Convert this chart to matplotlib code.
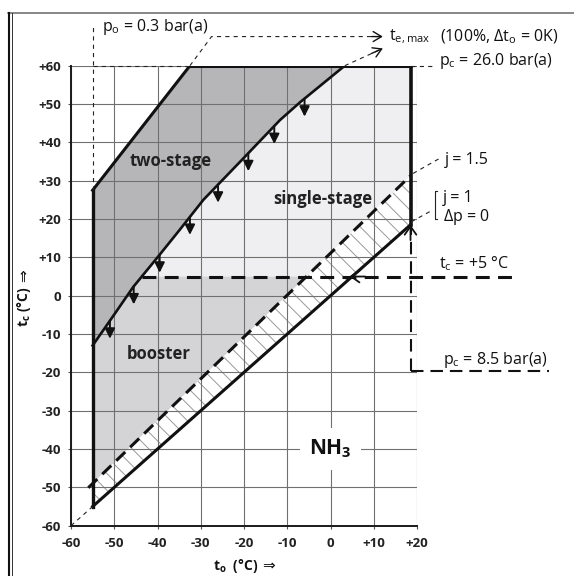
import numpy as np
import matplotlib
matplotlib.use('Agg')
import matplotlib.pyplot as plt
from matplotlib.lines import Line2D
from matplotlib.patches import Polygon

plt.rcParams['font.family'] = ['Open Sans', 'DejaVu Sans']
plt.rcParams['mathtext.fontset'] = 'custom'
plt.rcParams['mathtext.rm'] = 'Open Sans'
plt.rcParams['mathtext.it'] = 'Open Sans:italic'
plt.rcParams['mathtext.bf'] = 'Open Sans:bold'
plt.rcParams['axes.unicode_minus'] = False
plt.rcParams['lines.scale_dashes'] = False
plt.rcParams['hatch.linewidth'] = 0.7
plt.rcParams['hatch.color'] = '#9a9a9a'

# application limits: evaporating temp t_o (x) vs condensing temp t_c (y), degC
te_min = -55
te_max = 18.5
tc_max = 60
tc_split = 5        # booster / single-stage border (t_c = +5)
tc_low = -19.6      # p_c = 8.5 bar(a)

# p_o = 0.3 bar(a) edge of the two-stage area
po_x = [-55, -32.5]
po_y = [27.5, 60]

# single-stage limit
single_x = [-55, -50, -45.6, -40, -35, -29.4, -20, -11.7, -7, 3.3]
single_y = [-13, -4.9, 2.3, 10, 17, 25, 36, 45.8, 50.5, 60]

# pressure ratio lines
j15_x = [-56, 18.5]
j15_y = [-50.1, 31.3]
j1_x = [-55, 18.5]
j1_y = [-55, 18.5]

# down arrows along the single-stage limit
arrow_x = [-51, -45.5, -39.5, -32.5, -26, -19, -13, -6]

xticks = [-60, -50, -40, -30, -20, -10, 0, 10, 20]
xlabels = ['-60', '-50', '-40', '-30', '-20', '-10', '0', '+10', '+20']
yticks = [-60, -50, -40, -30, -20, -10, 0, 10, 20, 30, 40, 50, 60]
ylabels = ['-60', '-50', '-40', '-30', '-20', '-10', '0', '+10', '+20',
           '+30', '+40', '+50', '+60']

c_two = '#b6b6b8'
c_boost = '#d4d4d6'
c_single = '#efeff1'

fig = plt.figure(figsize=(5.74, 5.76), dpi=100)
ax = fig.add_axes([71 / 574, 1 - 525.7 / 576, 346 / 574, 460 / 576])
ax.set_xlim(-60, 20)
ax.set_ylim(-60, 60)

def j15(x):
    return np.interp(x, j15_x, j15_y)

xc5 = np.interp(tc_split, single_y, single_x)
xj5 = np.interp(tc_split, j15_y, j15_x)
curve = list(zip(single_x, single_y))

two_stage = [(po_x[0], po_y[0]), (po_x[1], po_y[1])] + curve[::-1]
single = ([(xc5, tc_split)] + [p for p in curve if p[1] > tc_split]
          + [(te_max, tc_max), (te_max, j15(te_max)), (xj5, tc_split)])
booster = ([p for p in curve if p[1] < tc_split] + [(xc5, tc_split), (xj5, tc_split),
           (te_min, j15(te_min))])
band = [(j1_x[0], j1_y[0]), (j1_x[1], j1_y[1]), (te_max, j15(te_max)), (te_min, j15(te_min))]

ax.add_patch(Polygon(two_stage, closed=True, facecolor=c_two, lw=0, zorder=1))
ax.add_patch(Polygon(single, closed=True, facecolor=c_single, lw=0, zorder=1))
ax.add_patch(Polygon(booster, closed=True, facecolor=c_boost, lw=0, zorder=1))
ax.add_patch(Polygon(band, closed=True, facecolor='white', edgecolor='#9a9a9a',
                     hatch='\\\\', lw=0, zorder=1))

# grid and axes
ax.set_xticks(xticks)
ax.set_xticklabels(xlabels)
ax.set_yticks(yticks)
ax.set_yticklabels(ylabels)
ax.grid(True, color='#707070', lw=0.8)
for s in ['top', 'right']:
    ax.spines[s].set_visible(False)
for s in ['left', 'bottom']:
    ax.spines[s].set_linewidth(1.4)
    ax.spines[s].set_color('#1a1a1a')
ax.tick_params(direction='out', length=2.5, width=0.8, color='#555555',
               labelsize=9.5, labelcolor='#222222')
ax.tick_params(axis='y', pad=4.5)
ax.tick_params(axis='x', pad=5.5)
for lab in ax.get_xticklabels() + ax.get_yticklabels():
    lab.set_fontweight('bold')

k = '#111111'
# area borders
ax.plot([te_min, te_min], [po_y[0], j1_y[0]], color=k, lw=2.4, zorder=4)
ax.plot(po_x, po_y, color=k, lw=2.2, zorder=4)
ax.plot([po_x[1], te_max], [tc_max, tc_max], color=k, lw=2.2, zorder=4)
ax.plot([te_max, te_max], [tc_max, j1_y[1]], color=k, lw=2.6, zorder=4)
ax.plot(j1_x, j1_y, color=k, lw=2.2, zorder=4)
ax.plot(single_x, single_y, color=k, lw=1.9, zorder=4)
ax.plot(j15_x, j15_y, color=k, lw=2.2, dashes=(9, 5), zorder=4)
ax.plot([xc5, 42.5], [tc_split, tc_split], color=k, lw=2.2, dashes=(10, 6),
        zorder=4, clip_on=False)
ax.plot([te_max, te_max], [tc_low, j1_y[1]], color=k, lw=1.5, dashes=(9, 5),
        zorder=4, clip_on=False)
ax.plot([te_max, 50.6], [tc_low, tc_low], color=k, lw=1.5, dashes=(9, 5),
        zorder=4, clip_on=False)

# thin guide lines
thin = dict(color='#222222', lw=0.8, dashes=(3, 3), zorder=4, clip_on=False)
ax.plot([te_min, te_min], [po_y[0], 70.6], **thin)
ax.plot([te_min, po_x[1]], [tc_max, tc_max], **thin)
ax.plot([po_x[1], -27.5, 12.1], [tc_max, 67.6, 67.6], **thin)
ax.plot([single_x[-1], 12.1], [single_y[-1], 64.5], **thin)
ax.plot([te_max, 24.5], [tc_max, tc_max], **thin)
ax.plot([19.1, 25.2], [31.9, 35.8], **thin)
ax.plot([18.7, 23.7], [19.3, 22.4], **thin)
ax.plot([-60, j1_x[0]], [-60, j1_y[0]], **thin)
ax.plot([24.7, 24.1, 24.1, 24.7], [27.4, 27.4, 20.1, 20.1], color='#222222',
        lw=0.8, zorder=4, clip_on=False)

def head(tip, frm, style='->', lw=1.0, ms=10):
    ax.annotate('', xy=tip, xytext=frm, annotation_clip=False,
                arrowprops=dict(arrowstyle=style, lw=lw, color=k, shrinkA=0,
                                shrinkB=0, mutation_scale=ms), zorder=5)

for x in arrow_x:
    yc = np.interp(x, single_x, single_y)
    head((x, yc - 4.7), (x, yc), style='-|>,head_length=0.6,head_width=0.3', lw=1.4)

head((12.1, 67.6), (9.5, 67.6), style='->,head_length=0.5,head_width=0.3', ms=12)
head((12.1, 64.5), (9.5, 63.2), style='->,head_length=0.5,head_width=0.3', ms=12)
head((te_max, j1_y[1]), (te_max, 14.5), style='->,head_length=0.5,head_width=0.35',
     lw=1.3, ms=12)
head((4.4, tc_split), (8.0, tc_split), style='->,head_length=0.5,head_width=0.35',
     lw=1.3, ms=12)

# region names
bold = dict(fontsize=12, fontweight='bold', color='#222222', ha='center',
            va='center', zorder=6)
ax.text(-36.9, 35.1, 'two-stage', **bold)
ax.text(-1.8, 25.2, 'single-stage', **bold)
ax.text(-39.7, -15.2, 'booster', **bold)
ax.text(0, -40, r'NH$_\mathbf{3}$', fontsize=15, fontweight='bold', color='#111111',
        ha='center', va='center', zorder=6,
        bbox=dict(boxstyle='square,pad=0.45', facecolor='white', edgecolor='none'))

# annotations
note = dict(fontsize=11.5, color='#111111', va='center', zorder=6)
ax.text(-52.9, 70.1, r'$\mathrm{p_{o}}$ = 0.3 bar(a)', **note)
ax.text(13.6, 67.6, r'$\mathrm{t_{e,max}}$', **note)
ax.text(25.4, 67.6, r'(100%, $\Delta\mathrm{t_{o}}$ = 0K)', **note)
ax.text(25.0, 61.3, r'$\mathrm{p_{c}}$ = 26.0 bar(a)', **note)
ax.text(26.4, 35.4, 'j = 1.5', **note)
ax.text(25.9, 25.4, 'j = 1', **note)
ax.text(25.9, 20.6, r'$\Delta$p = 0', **note)
ax.text(25.0, 8.45, r'$\mathrm{t_{c}}$ = +5 °C', **note)
ax.text(26.0, -16.8, r'$\mathrm{p_{c}}$ = 8.5 bar(a)', **note)

# axis titles, arrow sign set in DejaVu Sans right after the text
lab = dict(fontsize=10, fontweight='bold', color='#111111')
tx = ax.text((213 - 71) / 346, -0.087, r'$\mathbf{t_{o}}$  (°C)', transform=ax.transAxes,
             ha='left', va='center', **lab)
ax.annotate('\u21d2', xy=(1, 0.5), xycoords=tx, xytext=(3, 0), textcoords='offset points',
            ha='left', va='center', family='DejaVu Sans', fontsize=11, color='#111111')
ty = ax.text(-0.136, (525.7 - 327) / 460, r'$\mathbf{t_{c}}$ (°C)', transform=ax.transAxes,
             ha='center', va='bottom', rotation=90, **lab)
ax.annotate('\u21d2', xy=(0.5, 1), xycoords=ty, xytext=(0, 3), textcoords='offset points',
            ha='center', va='bottom', rotation=90, family='DejaVu Sans', fontsize=11,
            color='#111111')

# page frame
fig.add_artist(Line2D([8 / 574, 1], [1 - 13.3 / 576] * 2, color='#666666', lw=1.1,
                      transform=fig.transFigure))
fig.add_artist(Line2D([9.3 / 574] * 2, [0, 1 - 13.3 / 576], color='#111111', lw=1.5,
                      transform=fig.transFigure))
fig.add_artist(Line2D([11.6 / 574] * 2, [0, 1 - 13.3 / 576], color='#333333', lw=0.7,
                      transform=fig.transFigure))

fig.savefig('out.png', dpi=100)
